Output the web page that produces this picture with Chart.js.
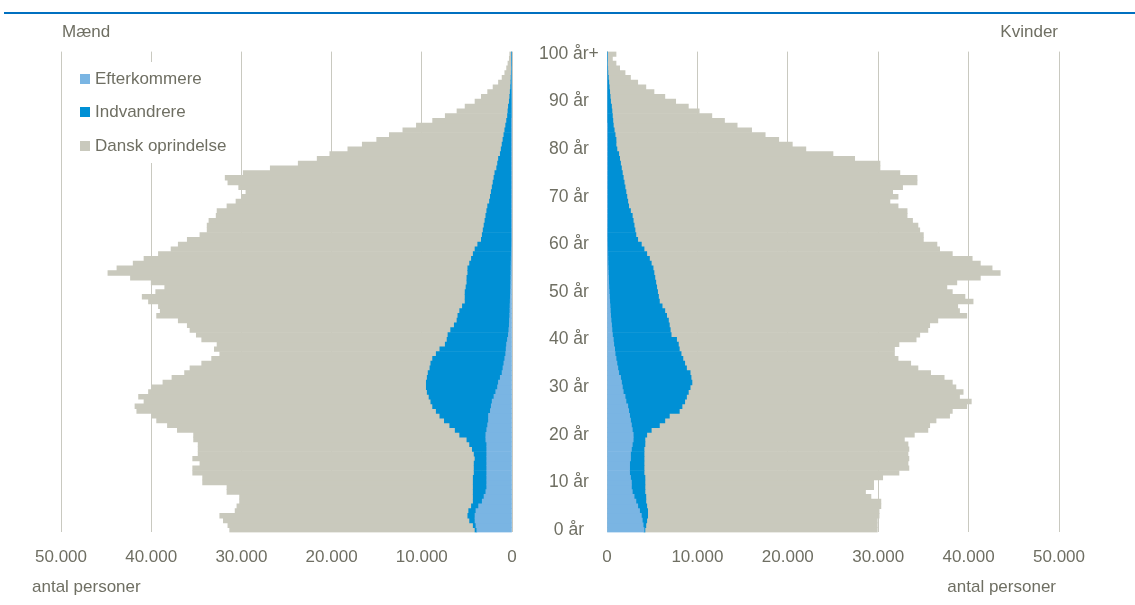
<!DOCTYPE html>
<html><head><meta charset="utf-8">
<script src="https://cdn.jsdelivr.net/npm/chart.js@4.4.1/dist/chart.umd.min.js"></script>
<style>
html,body{margin:0;padding:0;background:#fff;width:1135px;height:605px;overflow:hidden;position:relative}
#rule{position:absolute;left:4px;top:12px;width:1131px;height:2px;background:#0070c0}
#cl{position:absolute;left:0;top:0;width:607px;height:605px}
#cr{position:absolute;left:560px;top:0;width:575px;height:605px}
</style></head><body>
<div id="rule"></div>
<div id="cl"><canvas id="left"></canvas></div>
<div id="cr"><canvas id="right"></canvas></div>
<script>
// Categories: age 0 .. 100+
const ages = Array.from({length: 101}, (_, i) => i === 100 ? '100 år+' : i + ' år');
const xTicks = [0, 10000, 20000, 30000, 40000, 50000];
const seriesNames = ['Efterkommere', 'Indvandrere', 'Dansk oprindelse'];

// Mænd (men), persons per age 0..100+
const menEfterkommere = [3900,4000,4100,4100,4000,3700,3300,3100,2900,2800,2800,2800,2800,2800,2800,2800,2800,2800,2800,2900,2900,2800,2700,2600,2600,2400,2300,2200,2000,1800,1600,1500,1300,1100,1000,900,800,700,650,600,500,400,350,300,280,250,230,220,200,180,160,150,140,130,120,110,100,90,80,70,60,50,45,40,35,30,25,20,20,15,15,10,10,10,10,10,10,10,10,10,10,5,5,5,5,5,5,0,0,0,0,0,0,0,0,0,0,0,0,0,0];
const menIndvandrere = [200,300,600,800,800,800,1000,1200,1400,1500,1500,1500,1400,1400,1400,1300,1400,1600,1900,2100,2900,3500,4200,4900,5400,6000,6500,6800,7200,7600,7900,8000,8100,8200,8100,8100,8000,7700,7350,6800,6700,6700,6450,6100,5820,5750,5570,5280,5000,5020,5040,4950,4860,4870,4780,4790,4600,4410,4220,4030,3740,3350,3255,3160,3065,2970,2875,2780,2680,2485,2385,2290,2190,2090,1990,1890,1690,1590,1490,1290,1190,1095,995,895,795,695,595,500,450,400,300,250,200,150,120,100,80,60,40,30,20];
const menDansk = [27200,27200,27300,27500,25900,26000,25900,25900,27300,27300,30000,30000,31200,31200,30400,31300,30600,30400,30100,30300,29500,30800,31300,31900,31900,33200,33000,31800,32200,30900,30400,29200,28300,27000,26600,25400,24500,24000,25000,25300,27200,27900,28900,29600,30900,33400,33200,33700,35100,35800,34300,33400,35000,37300,39900,38900,37300,36300,34900,33700,33200,32600,31300,30600,30700,30600,29900,29900,28900,28100,27600,27200,28100,29400,29800,27900,25100,22100,20100,18900,17000,15500,14000,12700,11300,9900,8200,6900,5650,4800,3800,3150,2500,1950,1380,1000,720,540,410,270,230];

// Kvinder (women), persons per age 0..100+
const womenEfterkommere = [4100,4000,3900,3800,3600,3400,3200,3000,2800,2700,2700,2600,2500,2500,2500,2600,2600,2700,2800,2900,2900,2800,2700,2600,2500,2400,2300,2100,2000,1800,1700,1600,1500,1300,1200,1100,1000,900,850,750,700,600,550,500,450,400,370,340,300,270,240,210,190,170,150,130,110,100,90,80,70,60,50,45,40,35,30,25,20,20,15,10,10,10,10,10,10,10,10,10,10,5,5,5,5,5,0,0,0,0,0,0,0,0,0,0,0,0,0,0,0];
const womenIndvandrere = [100,300,500,700,900,1000,1100,1300,1400,1500,1500,1600,1600,1600,1600,1500,1500,1400,1400,1300,1500,2100,3100,3800,4400,5600,6000,6500,6800,7200,7500,7800,7800,7900,7600,7500,7400,7300,7150,7150,7000,6500,6450,6400,6350,6200,6030,5760,5500,5430,5360,5290,5210,5130,5050,4970,4790,4600,4310,4020,3730,3340,3150,3055,2960,2865,2770,2575,2380,2280,2185,2090,1990,1890,1790,1690,1590,1490,1390,1290,1090,995,995,895,795,695,650,600,550,500,400,350,300,250,200,150,100,80,60,40,40];
const womenDansk = [25700,25600,25500,25600,25600,25900,26000,24900,24400,25300,25300,26300,28200,29300,29200,29300,29200,29300,29100,28700,29600,30600,29900,30000,31000,30200,31500,31700,30200,30400,29400,28800,28000,26600,25600,25000,23800,23600,23800,24400,26500,27500,28500,28800,29800,33200,32600,32700,34700,33900,32600,32100,33300,36000,38300,37500,36400,35700,33800,32700,32700,31600,31800,31500,31400,30900,30400,30600,29800,29000,30000,29500,30700,32400,32500,30700,28600,28700,26000,23700,20900,19500,18000,16600,15200,13700,12350,11000,9650,8500,7200,6050,4900,4050,3200,2450,1900,1320,940,560,960];

const COLORS = ['#7ab5e3', '#0090d5', '#c9c9bd'];
const TXT = '#6f6f63';
const GRID = '#c9c9c0';
const FONT = '"Liberation Sans", Arial, sans-serif';
const FS = 17;

const fmt = v => String(v).replace(/\B(?=(\d{3})+(?!\d))/g, '.');

function makeDatasets(series) {
  return series.map((d, i) => ({
    label: seriesNames[i], data: d, backgroundColor: COLORS[i],
    borderWidth: 0, barPercentage: 1, categoryPercentage: 1
  }));
}

function xScale(reverse) {
  return {
    type: 'linear', reverse, min: 0, max: 50000, stacked: true,
    afterBuildTicks: s => { s.ticks = xTicks.map(v => ({value: v})); },
    ticks: {callback: v => fmt(v), color: TXT, font: {family: FONT, size: FS}, padding: 15, maxRotation: 0},
    grid: {color: GRID, lineWidth: 1, drawTicks: false},
    border: {display: false},
    afterFit: s => { s.height = 72.6; }
  };
}

const textPlugin = {
  id: 'texts',
  afterDraw(chart, args, opts) {
    const ctx = chart.ctx;
    ctx.save();
    ctx.fillStyle = TXT;
    ctx.font = FS + 'px ' + FONT;
    ctx.textBaseline = 'middle';
    (opts.items || []).forEach(t => {
      ctx.textAlign = t.align;
      ctx.fillText(t.text, t.x, t.y);
    });
    ctx.restore();
  }
};

const legendPlugin = {
  id: 'boxLegend',
  beforeDatasetsDraw(chart) {
    const ctx = chart.ctx;
    ctx.save();
    ctx.fillStyle = '#ffffff';
    ctx.fillRect(63, 62, 172, 101);
    ctx.restore();
  },
  afterDraw(chart) {
    const ctx = chart.ctx;
    ctx.save();
    ctx.font = FS + 'px ' + FONT;
    ctx.textBaseline = 'middle';
    ctx.textAlign = 'left';
    const ys = [79, 112, 146];
    chart.data.datasets.forEach((ds, i) => {
      ctx.fillStyle = ds.backgroundColor;
      ctx.fillRect(80, ys[i] - 5, 10, 10);
      ctx.fillStyle = TXT;
      ctx.fillText(ds.label, 95, ys[i]);
    });
    ctx.restore();
  }
};

new Chart(document.getElementById('left'), {
  type: 'bar',
  data: {labels: ages, datasets: makeDatasets([menEfterkommere, menIndvandrere, menDansk])},
  options: {
    indexAxis: 'y', responsive: true, maintainAspectRatio: false, animation: false,
    layout: {padding: {left: 61, top: 51.6, right: 0, bottom: 0}},
    scales: {
      x: xScale(true),
      y: {
        type: 'category', position: 'right', reverse: true, stacked: true,
        grid: {display: false}, border: {display: false},
        ticks: {autoSkip: false, callback: (v, i) => i % 10 === 0 ? ages[i] : '',
                color: TXT, font: {family: FONT, size: 17.5}, padding: 19, crossAlign: 'center'},
        afterFit: s => { s.width = 95; }
      }
    },
    plugins: {
      legend: {display: false}, tooltip: {enabled: false},
      texts: {items: [
        {text: 'Mænd', x: 62, y: 32, align: 'left'},
        {text: 'antal personer', x: 32, y: 587, align: 'left'}
      ]}
    }
  },
  plugins: [legendPlugin, textPlugin]
});

new Chart(document.getElementById('right'), {
  type: 'bar',
  data: {labels: ages, datasets: makeDatasets([womenEfterkommere, womenIndvandrere, womenDansk])},
  options: {
    indexAxis: 'y', responsive: true, maintainAspectRatio: false, animation: false,
    layout: {padding: {left: 47, top: 51.6, right: 76, bottom: 0}},
    scales: {
      x: xScale(false),
      y: {type: 'category', reverse: true, stacked: true, display: false}
    },
    plugins: {
      legend: {display: false}, tooltip: {enabled: false},
      texts: {items: [
        {text: 'Kvinder', x: 1058 - 560, y: 32, align: 'right'},
        {text: 'antal personer', x: 1056 - 560, y: 587, align: 'right'}
      ]}
    }
  },
  plugins: [textPlugin]
});
</script>
</body></html>
